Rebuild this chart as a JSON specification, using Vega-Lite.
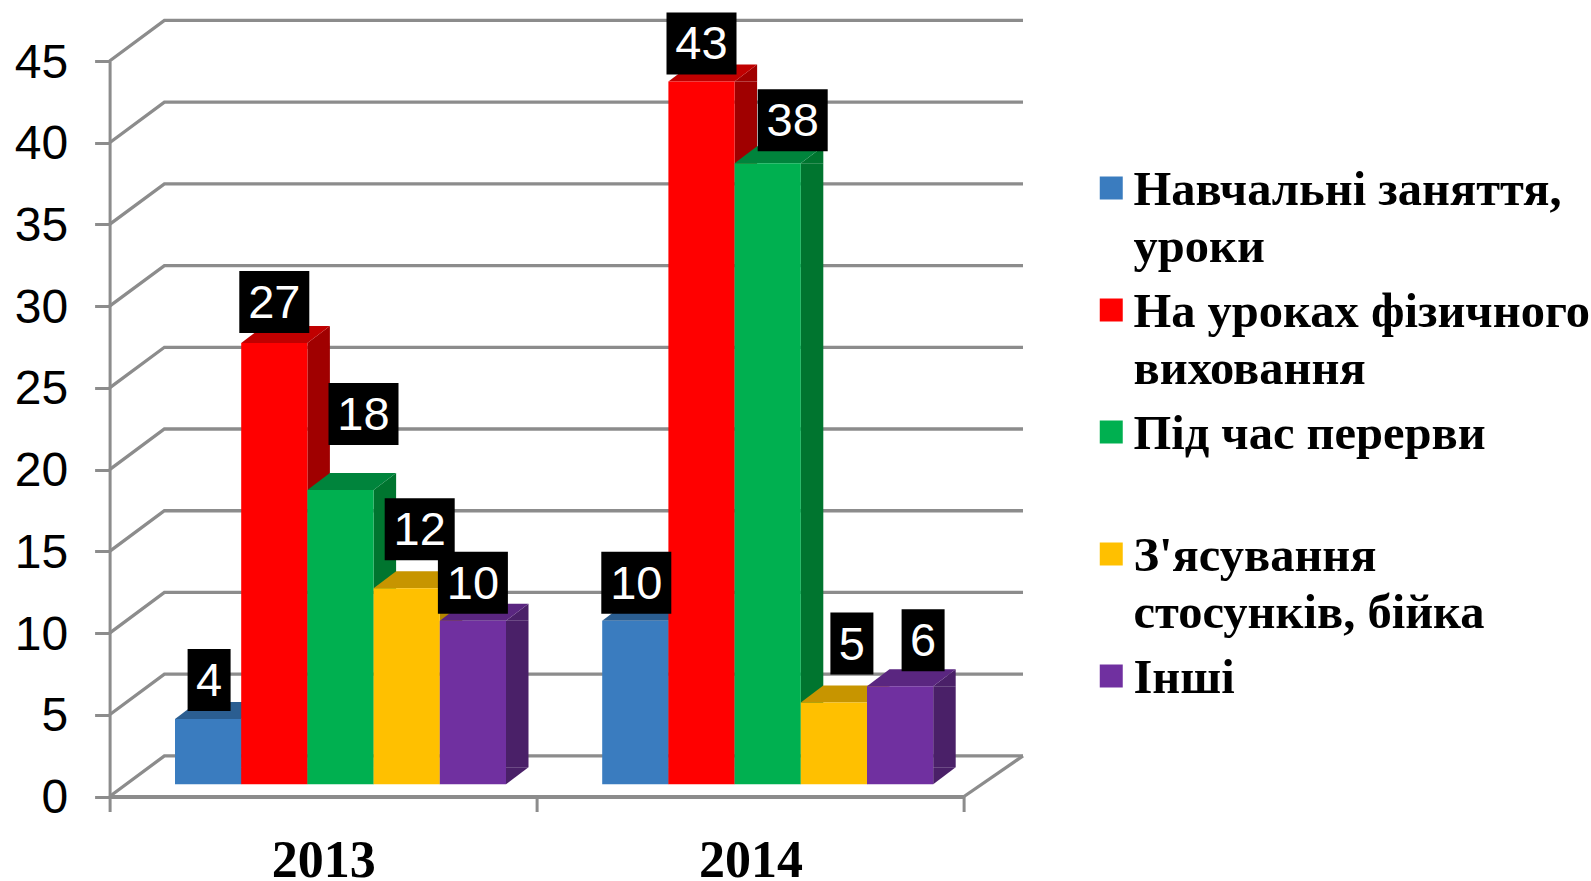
{
"$schema":"https://vega.github.io/schema/vega-lite/v6.json",
"autosize":"none",
"padding":{"left":109.6,"top":61,"right":627,"bottom":84.5},
"width":854.4,"height":735.5,
"background":"white",
"config":{"view":{"stroke":null},"axis":{"title":null}},
"datasets":{"bars":[
{"year":"2013","category":"Навчальні заняття, уроки","value":4},
{"year":"2013","category":"На уроках фізичного виховання","value":27},
{"year":"2013","category":"Під час перерви","value":18},
{"year":"2013","category":"З'ясування стосунків, бійка","value":12},
{"year":"2013","category":"Інші","value":10},
{"year":"2014","category":"Навчальні заняття, уроки","value":10},
{"year":"2014","category":"На уроках фізичного виховання","value":43},
{"year":"2014","category":"Під час перерви","value":38},
{"year":"2014","category":"З'ясування стосунків, бійка","value":5},
{"year":"2014","category":"Інші","value":6}
],
"ticks":[{"v":0},{"v":5},{"v":10},{"v":15},{"v":20},{"v":25},{"v":30},{"v":35},{"v":40},{"v":45}]},
"resolve":{"scale":{"xOffset":"independent","color":"independent"}},
"layer":[
{"data":{"name":"ticks"},
 "mark":{"type":"point","size":4,"filled":false,"opacity":1,"strokeWidth":3.3,"color":"#8c8c8c","shape":"M-427.2,0L-372.4,-40.6L486.2,-40.6"},
 "encoding":{"y":{"field":"v","type":"quantitative","scale":{"domain":[0,45],"nice":false,"zero":true},
  "axis":{"values":[0,5,10,15,20,25,30,35,40,45],"grid":false,"tickSize":15,"tickWidth":3,"tickColor":"#8c8c8c","domainColor":"#8c8c8c","domainWidth":3,"labelFont":"Liberation Sans","labelFontSize":48,"labelColor":"#000000","labelPadding":27,"labelOffset":2}}}},
{"data":{"values":[{"v":0}]},
 "mark":{"type":"point","size":4,"filled":false,"opacity":1,"strokeWidth":3.3,"color":"#8c8c8c","shape":"M427.2,0L486.2,-40.6"},
 "encoding":{"y":{"field":"v","type":"quantitative"}}},
{"data":{"name":"bars"},
 "mark":{"type":"bar","width":22.5,"yOffset":-12.2,"y2Offset":-29.2},
 "encoding":{
  "x":{"field":"year","type":"nominal","scale":{"paddingInner":0,"paddingOuter":0},
   "axis":{"tickBand":"extent","labelAngle":0,"tickSize":15,"tickWidth":3,"tickColor":"#8c8c8c","domainColor":"#8c8c8c","domainWidth":4,"labelFont":"Liberation Serif","labelFontWeight":"bold","labelFontSize":52,"labelColor":"#000000","labelPadding":24}},
  "xOffset":{"field":"category","scale":{"domain":["Навчальні заняття, уроки","На уроках фізичного виховання","Під час перерви","З'ясування стосунків, бійка","Інші"],"range":[109.75,440.75],"padding":0}},
  "y":{"field":"value","type":"quantitative","stack":null},
  "y2":{"datum":0},
  "color":{"field":"category","legend":null,"scale":{"domain":["Навчальні заняття, уроки","На уроках фізичного виховання","Під час перерви","З'ясування стосунків, бійка","Інші"],"range":["#255080","#A00000","#00752F","#B38600","#4A2068"]}}}},
{"data":{"name":"bars"},
 "mark":{"type":"point","size":4,"filled":true,"opacity":1,"yOffset":-12.2,"shape":"M33.1,0L55.6,-17L55.6,0Z"},
 "encoding":{
  "x":{"field":"year","type":"nominal"},
  "xOffset":{"field":"category","scale":{"domain":["Навчальні заняття, уроки","На уроках фізичного виховання","Під час перерви","З'ясування стосунків, бійка","Інші"],"range":[98.5,363.3],"padding":0}},
  "y":{"field":"value","type":"quantitative"},
  "color":{"field":"category","legend":null,"scale":{"domain":["Навчальні заняття, уроки","На уроках фізичного виховання","Під час перерви","З'ясування стосунків, бійка","Інші"],"range":["#255080","#A00000","#00752F","#B38600","#4A2068"]}}}},
{"data":{"name":"bars"},
 "mark":{"type":"point","size":4,"filled":true,"opacity":1,"yOffset":-12.2,"shape":"M33.1,0L33.1,-17L55.6,-17Z"},
 "encoding":{
  "x":{"field":"year","type":"nominal"},
  "xOffset":{"field":"category","scale":{"domain":["Навчальні заняття, уроки","На уроках фізичного виховання","Під час перерви","З'ясування стосунків, бійка","Інші"],"range":[98.5,363.3],"padding":0}},
  "y":{"datum":0},
  "color":{"field":"category","legend":null,"scale":{"domain":["Навчальні заняття, уроки","На уроках фізичного виховання","Під час перерви","З'ясування стосунків, бійка","Інші"],"range":["#255080","#A00000","#00752F","#B38600","#4A2068"]}}}},
{"data":{"name":"bars"},
 "mark":{"type":"point","size":4,"filled":true,"opacity":1,"yOffset":-12.2,"shape":"M-33.1,0L-10.6,-17L55.6,-17L33.1,0Z"},
 "encoding":{
  "x":{"field":"year","type":"nominal"},
  "xOffset":{"field":"category","scale":{"domain":["Навчальні заняття, уроки","На уроках фізичного виховання","Під час перерви","З'ясування стосунків, бійка","Інші"],"range":[98.5,363.3],"padding":0}},
  "y":{"field":"value","type":"quantitative"},
  "color":{"field":"category","legend":null,"scale":{"domain":["Навчальні заняття, уроки","На уроках фізичного виховання","Під час перерви","З'ясування стосунків, бійка","Інші"],"range":["#2B5E91","#C00000","#00843C","#C79500","#5A2680"]}}}},
{"data":{"name":"bars"},
 "mark":{"type":"bar","yOffset":-12.2,"y2Offset":-12.2},
 "encoding":{
  "x":{"field":"year","type":"nominal"},
  "xOffset":{"field":"category","scale":{"domain":["Навчальні заняття, уроки","На уроках фізичного виховання","Під час перерви","З'ясування стосунків, бійка","Інші"],"range":[65.4,396.4],"padding":0}},
  "y":{"field":"value","type":"quantitative","stack":null},
  "y2":{"datum":0},
  "color":{"field":"category","scale":{"domain":["Навчальні заняття, уроки","На уроках фізичного виховання","Під час перерви","З'ясування стосунків, бійка","Інші"],"range":["#3A7CBF","#FF0000","#00B050","#FFC000","#7030A0"]},
   "legend":{"title":null,"orient":"none","legendX":977.4,"legendY":115,"symbolType":"square","symbolSize":529,"symbolStrokeWidth":0,"labelFont":"Liberation Serif","labelFontWeight":"bold","labelFontSize":48.5,"labelColor":"#000000","labelLimit":0,"labelOffset":-2,"labelBaseline":"top","gridAlign":"all","rowPadding":16,"padding":0,
    "labelExpr":"split(replace(datum.label, /(заняття,|фізичного|З'ясування) /, '$1|'), '|')",
    "encoding":{"labels":{"lineHeight":{"value":57},"y":{"value":-9}},"symbols":{"y":{"value":12}}}}}}},
{"data":{"name":"bars"},
 "transform":[
  {"calculate":"({'2013|4':1,'2013|27':0,'2013|18':23,'2013|12':13,'2013|10':0,'2014|10':1,'2014|43':0,'2014|38':25,'2014|5':18,'2014|6':23})[datum.year+'|'+datum.value]","as":"dx"},
  {"calculate":"({'2013|4':-39,'2013|27':-41,'2013|18':-76,'2013|12':-59,'2013|10':-38,'2014|10':-38,'2014|43':-38,'2014|38':-43,'2014|5':-59,'2014|6':-46})[datum.year+'|'+datum.value]","as":"dy"},
  {"calculate":"datum.value<10?21.5:35","as":"hw"},
  {"calculate":"'M'+(datum.dx-datum.hw)+','+(datum.dy-31)+'h'+(2*datum.hw)+'v62h'+(-2*datum.hw)+'Z'","as":"box"}],
 "layer":[
  {"mark":{"type":"point","size":4,"filled":true,"opacity":1,"color":"#000000","yOffset":-12.2},
   "encoding":{
    "x":{"field":"year","type":"nominal"},
    "xOffset":{"field":"category","scale":{"domain":["Навчальні заняття, уроки","На уроках фізичного виховання","Під час перерви","З'ясування стосунків, бійка","Інші"],"range":[98.5,363.3],"padding":0}},
    "y":{"field":"value","type":"quantitative"},
    "shape":{"field":"box","type":"nominal","scale":null,"legend":null}}},
  {"mark":{"type":"text","font":"Liberation Sans","fontSize":47,"color":"#ffffff","baseline":"middle","align":"center","yOffset":-12.2,"dx":{"expr":"datum.dx"},"dy":{"expr":"datum.dy+2"}},
   "encoding":{
    "x":{"field":"year","type":"nominal"},
    "xOffset":{"field":"category","scale":{"domain":["Навчальні заняття, уроки","На уроках фізичного виховання","Під час перерви","З'ясування стосунків, бійка","Інші"],"range":[98.5,363.3],"padding":0}},
    "y":{"field":"value","type":"quantitative"},
    "text":{"field":"value","type":"quantitative"}}}
 ]}
]
}
